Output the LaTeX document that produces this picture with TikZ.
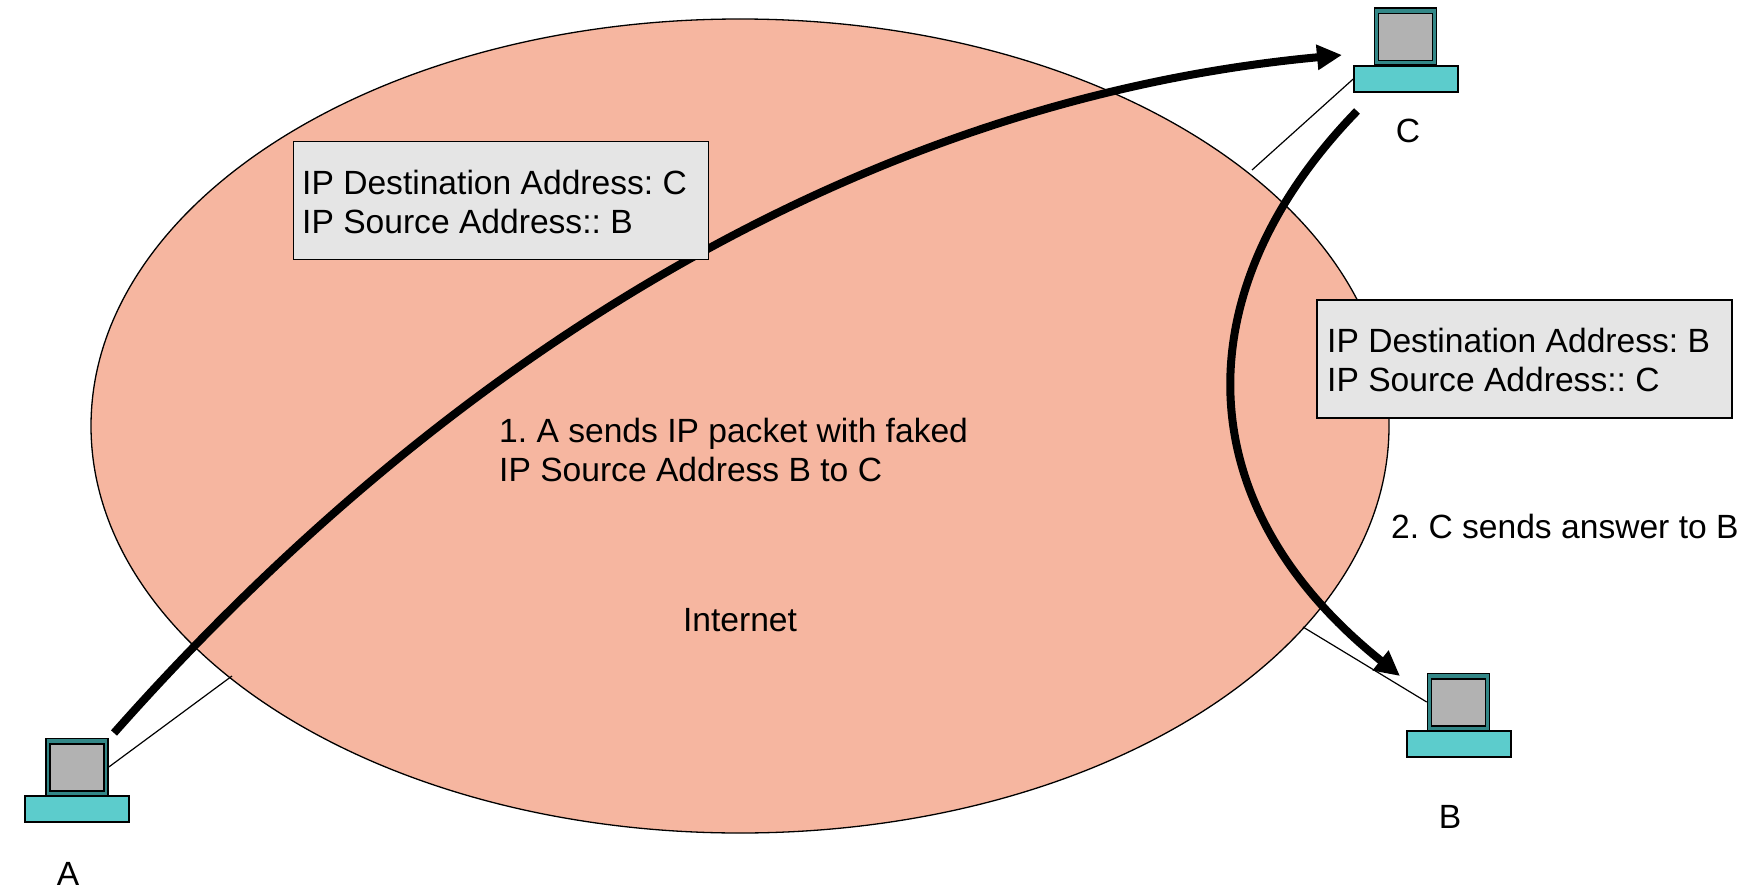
\documentclass[tikz,border=0pt]{standalone}
\usepackage{fontspec}
\setmainfont{Liberation Sans}
\usetikzlibrary{arrows.meta}
\tikzset{
  x=1pt,y=-1pt,
  lbl/.style={font=\fontsize{33.6}{39}\selectfont\frenchspacing,align=left,inner sep=0pt,text=black},
  pkt/.style={draw=black,line width=1.4pt,fill=pktgray,minimum width=415pt,minimum height=118pt,inner sep=0pt},
  base/.style={draw=black,line width=1.6pt,fill=basecyan,minimum width=104pt,minimum height=26pt,inner sep=0pt},
  mon/.style={draw=black,line width=1.6pt,fill=monteal,minimum width=62pt,minimum height=57pt,inner sep=0pt},
  scr/.style={draw=black,line width=1.6pt,fill=scrgray,minimum width=54pt,minimum height=47pt,inner sep=0pt},
  link/.style={draw=black,line width=1.2pt},
  flow/.style={draw=black,line width=8pt,-{Triangle[length=25pt,width=24pt]}},
}
\definecolor{inet}{RGB}{246,182,160}
\definecolor{pktgray}{RGB}{229,229,229}
\definecolor{basecyan}{RGB}{92,204,204}
\definecolor{monteal}{RGB}{51,135,135}
\definecolor{scrgray}{RGB}{178,178,178}
\begin{document}
\begin{tikzpicture}
\useasboundingbox (0,0) rectangle (1744,888);
\draw[fill=inet,draw=black,line width=1.3pt] (740,426) ellipse [x radius=649,y radius=407];
\coordinate (ea) at (232,676);
\coordinate (ec) at (1252,170);
\coordinate (eb) at (1303,627);
% computers
\node[mon] (monA) at (77,767) {};
\node[scr] (scrA) at (77,767.5) {};
\node[base] (baseA) at (77,809) {};
\node[mon] (monC) at (1405.5,36.5) {};
\node[scr] (scrC) at (1405.5,37) {};
\node[base] (baseC) at (1406,79) {};
\node[mon] (monB) at (1458.5,702) {};
\node[scr] (scrB) at (1458.5,702.5) {};
\node[base] (baseB) at (1459,744) {};
\draw[link] (ea) -- (monA.east);
\draw[link] (ec) -- (baseC.west);
\draw[link] (eb) -- (monB.west);
% flows
\coordinate (s1) at (114,733);
\coordinate (e1) at (1342,55);
\coordinate (s2) at (1357,111);
\coordinate (e2) at (1400,676);
\draw[flow] (s1) .. controls (462,340) and (880,98) .. (e1);
\draw[flow] (s2) .. controls (1188,285) and (1180,500) .. (e2);
% packets
\node[pkt] (pkt1) at (501,200.5) {};
\node[pkt] (pkt2) at (1524.5,359) {};
\node[lbl,anchor=west] (t1) at (302,202) {IP Destination Address: C\\IP Source Address:: B};
\node[lbl,anchor=west] (t2) at (1327,360) {IP Destination Address: B\\IP Source Address:: C};
% labels
\node[lbl,anchor=west] (t3) at (499,450) {1. A sends IP packet with faked\\IP Source Address B to C};
\node[lbl,anchor=west] (t4) at (1391,526) {2. C sends answer to B};
\node[lbl] (t5) at (740,620) {Internet};
\node[lbl] (la) at (68,874) {A};
\node[lbl] (lc) at (1408,131) {C};
\node[lbl] (lb) at (1450,817) {B};
\end{tikzpicture}
\end{document}
